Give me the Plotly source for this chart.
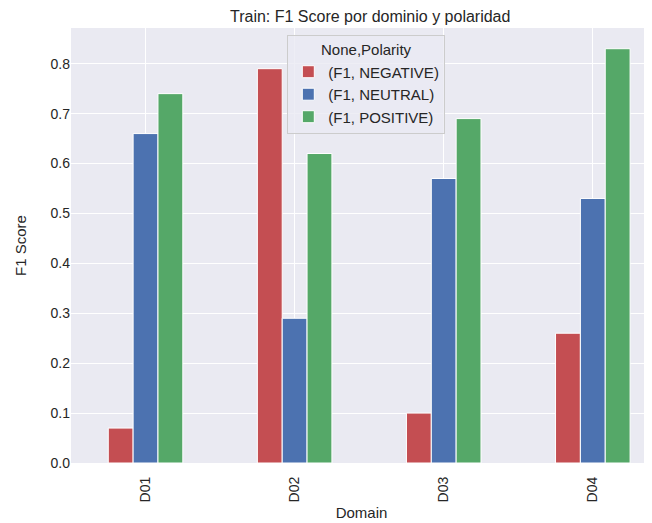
import plotly.graph_objects as go

domains = ["D01", "D02", "D03", "D04"]
series_names = ["(F1, NEGATIVE)", "(F1, NEUTRAL)", "(F1, POSITIVE)"]
f1_negative = [0.07, 0.79, 0.10, 0.26]
f1_neutral = [0.66, 0.29, 0.57, 0.53]
f1_positive = [0.74, 0.62, 0.69, 0.83]
colors = ["#C44E52", "#4C72B0", "#55A868"]
y_ticks = [0.0, 0.1, 0.2, 0.3, 0.4, 0.5, 0.6, 0.7, 0.8]

FONT = "Liberation Sans, Arial, sans-serif"
TXT = "#262626"

# page body has an 8px default margin; figure sized to fill the rest of the window
W, H = 644, 515

fig = go.Figure()
for name, vals, col in zip(series_names, [f1_negative, f1_neutral, f1_positive], colors):
    fig.add_trace(go.Bar(
        x=list(range(len(domains))), y=vals, name=name,
        marker=dict(color=col, line=dict(color="white", width=1)),
    ))

fig.update_layout(
    width=W, height=H,
    paper_bgcolor="white", plot_bgcolor="#EAEAF2",
    margin=dict(l=62.5, r=0, t=20, b=59.5, pad=0),
    font=dict(family=FONT, color=TXT, size=14),
    title=dict(text="Train: F1 Score por dominio y polaridad", x=0.515, xref="paper",
               xanchor="center", y=1 - 8 / H, yanchor="middle",
               font=dict(size=16, color=TXT)),
    barmode="group", bargap=0.5, bargroupgap=0,
    legend=dict(
        title=dict(text="None,Polarity", side="top center", font=dict(size=15)),
        x=0.3723, y=0.984, xanchor="left", yanchor="top",
        bgcolor="rgba(234,234,242,0.8)", bordercolor="#CCCCCC", borderwidth=1,
        font=dict(size=15), tracegroupgap=0, itemwidth=30,
    ),
    showlegend=True,
)
fig.update_xaxes(
    range=[-0.5, 3.397], tickmode="array", tickvals=list(range(len(domains))),
    ticktext=domains, tickangle=-90, showgrid=True, gridcolor="white", gridwidth=1,
    zeroline=False, showline=False, ticks="",
    ticklabelstandoff=10,
    title=dict(text="Domain", font=dict(size=15), standoff=6),
    tickfont=dict(size=14),
)
fig.update_yaxes(
    range=[0, 0.8715], tickmode="array", tickvals=y_ticks,
    ticktext=[f"{v:.1f}" for v in y_ticks], showgrid=True, gridcolor="white",
    gridwidth=1, zeroline=False, showline=False, ticks="",
    title=dict(text="F1 Score", font=dict(size=15), standoff=20),
    tickfont=dict(size=14),
)
fig.write_html("out.html")
